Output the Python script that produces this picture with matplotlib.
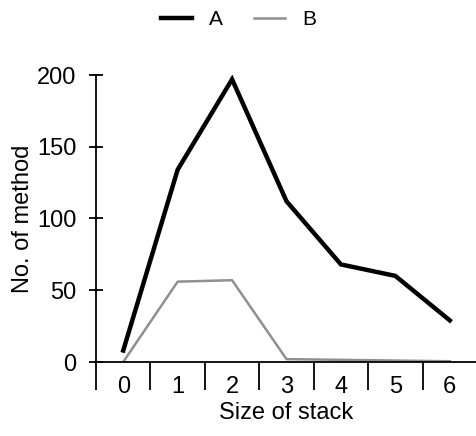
import matplotlib.pyplot as plt
import numpy as np
from matplotlib.ticker import FixedLocator

# Data
sizes = [0, 1, 2, 3, 4, 5, 6]
series_a = [8, 134, 197, 112, 68, 60, 29]
series_b = [0, 56, 57, 2, 1.5, 1, 0.5]
y_ticks = [0, 50, 100, 150, 200]

plt.rcParams['font.family'] = ['Liberation Sans', 'DejaVu Sans']

fig = plt.figure(figsize=(4.77, 4.36), dpi=100)
ax = fig.add_axes([96/477, 74/436, 381/477, 287/436])

x = np.array(sizes)
ax.plot(x, series_a, color='black', lw=3.2, solid_joinstyle='miter', label='A')
ax.plot(x, series_b, color='#8f8f8f', lw=1.8, label='B')

ax.set_xlim(-0.5, 6.5)
ax.set_ylim(0, 200)

# only left and bottom axis lines
ax.spines['top'].set_visible(False)
ax.spines['right'].set_visible(False)
ax.spines['left'].set_linewidth(1.3)
ax.spines['bottom'].set_linewidth(1.3)

# y ticks cross the axis
ax.set_yticks(y_ticks)
ax.tick_params(axis='y', direction='inout', length=10, width=1.3, labelsize=17, pad=9)

# x labels at the centres, tick marks on the category boundaries
ax.set_xticks(sizes)
ax.tick_params(axis='x', which='major', length=0, labelsize=17, pad=10)
ax.xaxis.set_minor_locator(FixedLocator(np.arange(-0.5, 7.0, 1.0)))
ax.tick_params(axis='x', which='minor', direction='out', length=20, width=1.3)

ax.set_xlabel('Size of stack', fontsize=17, labelpad=3)
ax.set_ylabel('No. of method', fontsize=17, labelpad=2)

fig.legend(loc='upper center', bbox_to_anchor=(0.5, 1.02), ncol=2, frameon=False,
           fontsize=15, handlelength=1.5, columnspacing=1.5, handletextpad=0.8)

plt.savefig('out.png', dpi=100)
